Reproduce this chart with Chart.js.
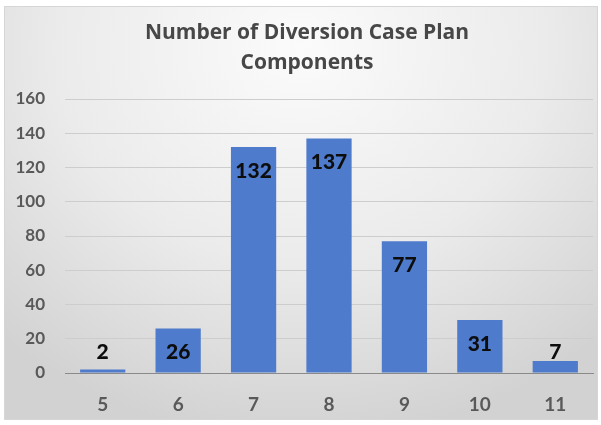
<!DOCTYPE html>
<html>
<head>
<meta charset="utf-8">
<script src="https://cdn.jsdelivr.net/npm/chart.js@4.4.0/dist/chart.umd.min.js"></script>
<style>
  html, body { margin: 0; padding: 0; background: #fff; }
  #box {
    position: absolute; left: 4px; top: 6px; width: 592px; height: 412px;
    border: 1px solid #d6d6d6;
    background: radial-gradient(ellipse 75% 95% at 50% 10%, #fbfbfb 0%, #ebebeb 55%, #d2d2d2 100%);
  }
  #wrap { position: absolute; left: 0; top: 0; width: 601px; height: 425px; }
</style>
</head>
<body>
<div id="box"></div>
<div id="wrap"><canvas id="myChart" width="601" height="425"></canvas></div>
<script>
// chart data
var components = ["5", "6", "7", "8", "9", "10", "11"];
var counts = [2, 26, 132, 137, 77, 31, 7];
var yTicks = [0, 20, 40, 60, 80, 100, 120, 140, 160];
var titleLines = ["Number of Diversion Case Plan", "Components"];

var fontName = "Lato, 'Open Sans', sans-serif";

// title drawn by hand so the two lines can be placed like the original
var chartTitle = {
  id: "chartTitle",
  beforeDraw: function (chart) {
    var ctx = chart.ctx;
    ctx.save();
    ctx.font = "bold 21px 'Open Sans', sans-serif";
    ctx.fillStyle = "#474747";
    ctx.textAlign = "center";
    ctx.textBaseline = "middle";
    titleLines.forEach(function (line, i) {
      ctx.fillText(line, 307, 33 + i * 30);
    });
    ctx.restore();
  }
};

// draws the bold value labels near the top of each bar
var valueLabels = {
  id: "valueLabels",
  afterDatasetsDraw: function (chart) {
    var ctx = chart.ctx;
    var meta = chart.getDatasetMeta(0);
    ctx.save();
    ctx.font = "900 21px " + fontName;
    ctx.fillStyle = "#0d0d0d";
    ctx.textAlign = "center";
    ctx.textBaseline = "middle";
    meta.data.forEach(function (bar, i) {
      var y = Math.min(bar.y + 24, bar.base - 20);
      ctx.fillText(counts[i], bar.x, y);
    });
    ctx.restore();
  }
};

var ctx = document.getElementById("myChart").getContext("2d");
var myChart = new Chart(ctx, {
  type: "bar",
  data: {
    labels: components,
    datasets: [
      {
        label: "Components",
        data: counts,
        backgroundColor: "#4f7bcc",
        categoryPercentage: 1.0,
        barPercentage: 0.6
      }
    ]
  },
  options: {
    responsive: false,
    animation: false,
    layout: { padding: { left: 0, right: 8, top: 99, bottom: 0 } },
    scales: {
      x: {
        afterFit: function (scale) { scale.height = 52; },
        grid: { display: false, drawTicks: false },
        border: { display: true, color: "#8a8a8a", width: 1 },
        ticks: {
          padding: 20,
          color: "#595959",
          font: { family: fontName, size: 19, weight: "bold" }
        }
      },
      y: {
        min: 0,
        max: 160,
        afterBuildTicks: function (scale) {
          scale.ticks = yTicks.map(function (v) { return { value: v }; });
        },
        afterFit: function (scale) { scale.width = 65; },
        grid: { color: "#cdcdcd", drawTicks: false },
        border: { display: false },
        ticks: {
          padding: 20,
          color: "#595959",
          font: { family: fontName, size: 17, weight: "bold" }
        }
      }
    },
    plugins: {
      legend: { display: false },
      tooltip: { enabled: false },
      title: { display: false }
    }
  },
  plugins: [chartTitle, valueLabels]
});
</script>
</body>
</html>
